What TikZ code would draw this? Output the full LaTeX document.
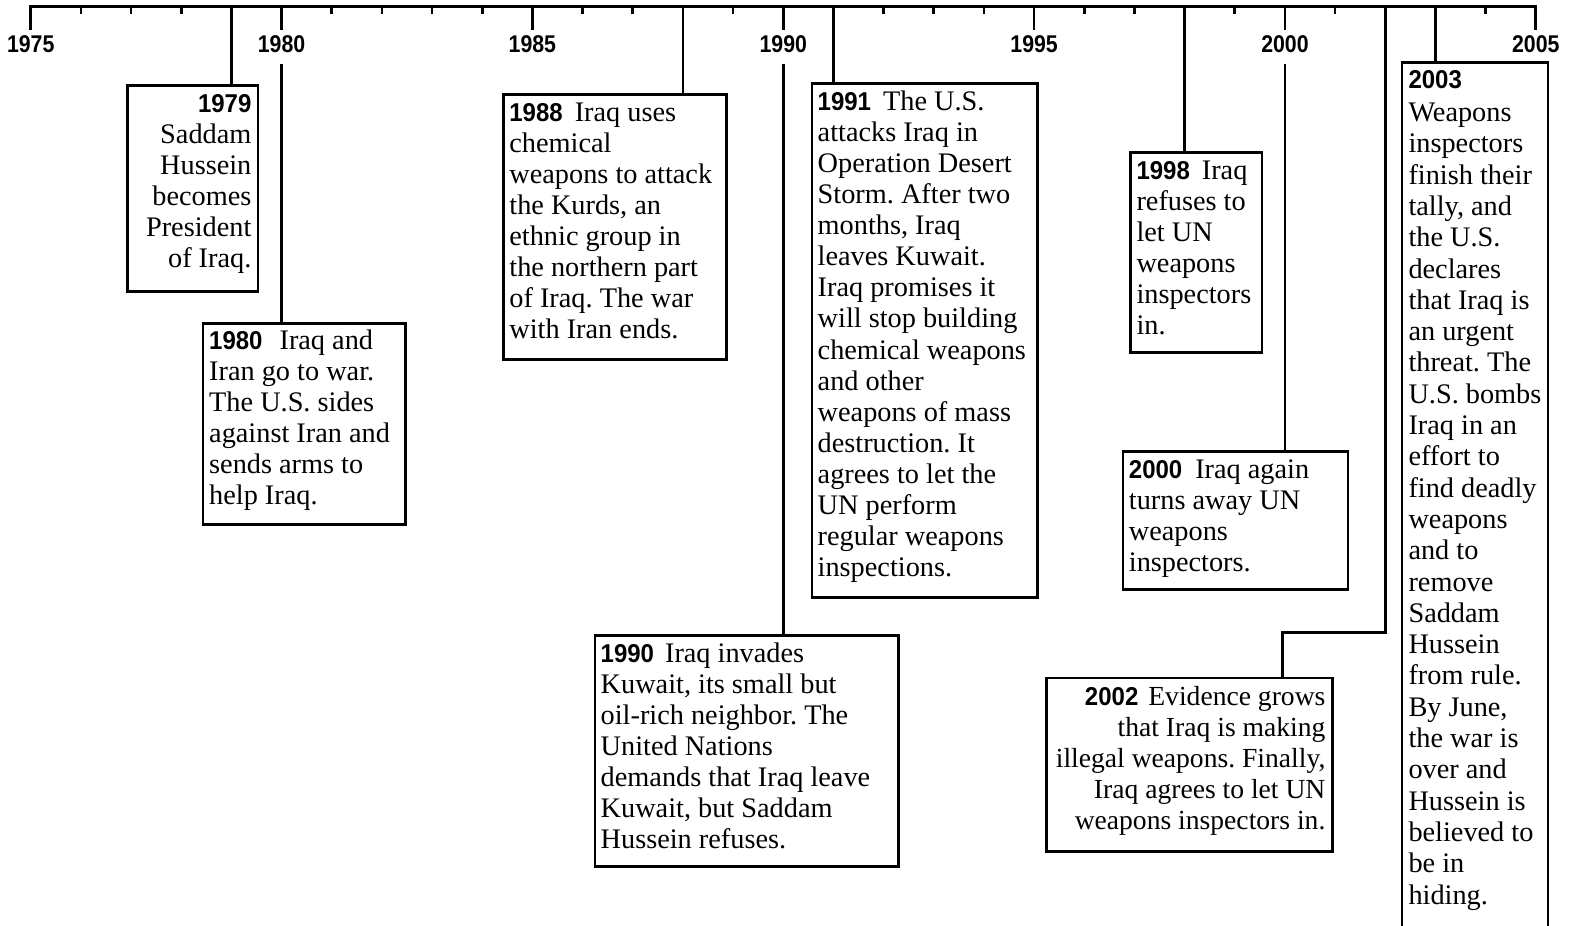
\documentclass[tikz,border=0pt]{standalone}
\usepackage{fontspec}
\setmainfont{Liberation Serif}
\newfontfamily\axisfont{Liberation Sans}[FakeStretch=0.88]
\newfontfamily\yrfont{Liberation Sans}[FakeStretch=0.93]
\newcommand{\yr}[1]{{\yrfont\bfseries\fontsize{25.8}{31.1}\selectfont #1}}
\newcommand{\fl}{\rule{0pt}{22pt}}
\frenchspacing
\begin{document}
\begin{tikzpicture}[x=1pt,y=-1pt,
  ln/.style={line width=2.6pt},
  evbox/.style={draw, line width=2.6pt, inner sep=0pt, anchor=north west},
  evtext/.style={inner sep=0pt, font=\frenchspacing\fontsize{28.3}{31.1}\selectfont},
  axlbl/.style={anchor=base, inner sep=0pt, font=\axisfont\bfseries\fontsize{24.2}{24}\selectfont}]
\useasboundingbox (0,0) rectangle (1577,926);

% axis
\draw[ln] (30.7,30) -- (30.7,6.7) -- (1535.7,6.7) -- (1535.7,30);
\foreach \yy in {1980,1985,1990,1995,2000}
  \draw[ln] ({30.7+50.17*(\yy-1975)},6.7) -- ++(0,23.3);
\foreach \yy in {1976,1977,1978,1981,1982,1983,1984,1986,1987,1989,1992,1993,1994,1996,1997,1999,2001,2004}
  \draw[ln] ({30.7+50.17*(\yy-1975)},6.7) -- ++(0,7.5);
\foreach \yy in {1975,1980,1985,1990,1995,2000,2005}
  \node[axlbl] (l\yy) at ({30.7+50.17*(\yy-1975)},52.3) {\yy};

% anchor points on the axis
\coordinate (ax1979) at (231.3,6.7);
\coordinate (ax1980) at (281.5,64);
\coordinate (ax1988) at (682.9,6.7);
\coordinate (ax1990) at (783.3,64);
\coordinate (ax1991) at (833.4,6.7);
\coordinate (ax1998) at (1184.6,6.7);
\coordinate (ax2000) at (1285,64);
\coordinate (ax2002) at (1385.3,6.7);
\coordinate (ax2003) at (1435.5,6.7);
\coordinate (k2002) at (1282.7,632.5);

% boxes
\node[evbox, minimum width=130.7, minimum height=206] (b1979) at (126,84) {};
\node[evbox, minimum width=202.3, minimum height=201] (b1980) at (201.7,322) {};
\node[evbox, minimum width=222.8, minimum height=265] (b1988) at (502.2,93) {};
\node[evbox, minimum width=303.5, minimum height=231] (b1990) at (593.5,634) {};
\node[evbox, minimum width=225.5, minimum height=514] (b1991) at (810.5,82) {};
\node[evbox, minimum width=131.4, minimum height=200] (b1998) at (1129.3,151) {};
\node[evbox, minimum width=225, minimum height=138] (b2000) at (1121.7,450) {};
\node[evbox, minimum width=286, minimum height=173.3] (b2002) at (1045,676.7) {};
\node[inner sep=0pt, anchor=north west, minimum width=145.7, minimum height=890] (b2003) at (1401.8,62.5) {};
\draw[ln] (b2003.south west) -- (b2003.north west) -- (b2003.north east) -- (b2003.south east);

% connectors
\draw[ln] (ax1979) -- (ax1979 |- b1979.north);
\draw[ln] (ax1980) -- (ax1980 |- b1980.north);
\draw[ln] (ax1988) -- (ax1988 |- b1988.north);
\draw[ln] (ax1990) -- (ax1990 |- b1990.north);
\draw[ln] (ax1991) -- (ax1991 |- b1991.north);
\draw[ln] (ax1998) -- (ax1998 |- b1998.north);
\draw[ln] (ax2000) -- (ax2000 |- b2000.north);
\draw[ln] (ax2002) |- (k2002) -- (k2002 |- b2002.north);
\draw[ln] (ax2003) -- (ax2003 |- b2003.north);

% texts
\node[evtext, anchor=north east, align=right] (t1979) at ([shift={(-7.7,6)}]b1979.north east)
  {\fl\yr{1979}\\Saddam\\Hussein\\becomes\\President\\of Iraq.};
\node[evtext, anchor=north west, align=left] (t1980) at ([shift={(7.3,5)}]b1980.north west)
  {\fl\yr{1980}\hspace{17pt}Iraq and\\Iran go to war.\\The U.S. sides\\against Iran and\\sends arms to\\help Iraq.};
\node[evtext, anchor=north west, align=left] (t1988) at ([shift={(7,6)}]b1988.north west)
  {\fl\yr{1988}\hspace{12pt}Iraq uses\\chemical\\weapons to attack\\the Kurds, an\\ethnic group in\\the northern part\\of Iraq. The war\\with Iran ends.};
\node[evtext, anchor=north west, align=left] (t1990) at ([shift={(7,6)}]b1990.north west)
  {\fl\yr{1990}\hspace{11pt}Iraq invades\\Kuwait, its small but\\oil-rich neighbor. The\\United Nations\\demands that Iraq leave\\Kuwait, but Saddam\\Hussein refuses.};
\node[evtext, anchor=north west, align=left] (t1991) at ([shift={(7,6)}]b1991.north west)
  {\fl\yr{1991}\hspace{12pt}The U.S.\\attacks Iraq in\\Operation Desert\\Storm. After two\\months, Iraq\\leaves Kuwait.\\Iraq promises it\\will stop building\\chemical weapons\\and other\\weapons of mass\\destruction. It\\agrees to let the\\UN perform\\regular weapons\\inspections.};
\node[evtext, anchor=north west, align=left] (t1998) at ([shift={(7,6)}]b1998.north west)
  {\fl\yr{1998}\hspace{12pt}Iraq\\refuses to\\let UN\\weapons\\inspectors\\in.};
\node[evtext, anchor=north west, align=left] (t2000) at ([shift={(7,6)}]b2000.north west)
  {\fl\yr{2000}\hspace{13pt}Iraq again\\turns away UN\\weapons\\inspectors.};
\node[evtext, anchor=north east, align=right, font=\frenchspacing\fontsize{27.6}{31.1}\selectfont] (t2002) at ([shift={(-8,6.3)}]b2002.north east)
  {\fl\yr{2002}\hspace{10pt}Evidence grows\\that Iraq is making\\illegal weapons. Finally,\\Iraq agrees to let UN\\weapons inspectors in.};
\node[evtext, anchor=north west, align=left, font=\frenchspacing\fontsize{28.3}{31.3}\selectfont] (t2003) at ([shift={(6.5,4)}]b2003.north west)
  {\fl\yr{2003}\\[1.5pt]Weapons\\inspectors\\finish their\\tally, and\\the U.S.\\declares\\that Iraq is\\an urgent\\threat. The\\U.S. bombs\\Iraq in an\\effort to\\find deadly\\weapons\\and to\\remove\\Saddam\\Hussein\\from rule.\\By June,\\the war is\\over and\\Hussein is\\believed to\\be in\\hiding.};
\end{tikzpicture}
\end{document}
